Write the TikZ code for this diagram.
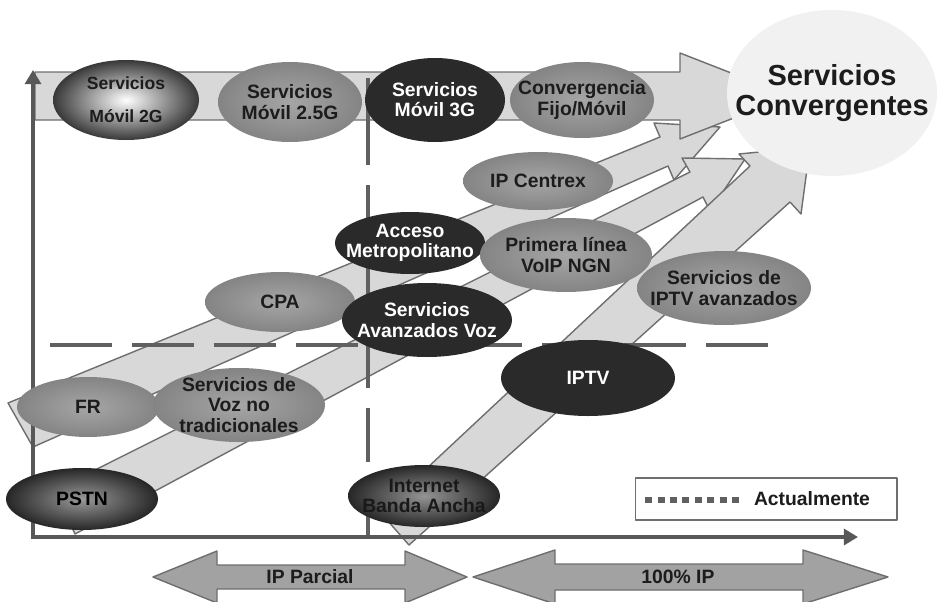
\documentclass[tikz,border=0pt]{standalone}
\usepackage{fontspec}
\setmainfont{Liberation Sans}
\usetikzlibrary{shapes.geometric,arrows.meta}

%Colors
\definecolor{bandfill}{RGB}{216,216,216}
\definecolor{bandline}{RGB}{110,110,110}
\definecolor{midout}{RGB}{132,132,132}
\definecolor{midin}{RGB}{166,166,166}
\definecolor{darkfill}{RGB}{42,42,42}
\definecolor{axisgray}{RGB}{88,88,88}
\definecolor{dashgray}{RGB}{96,96,96}
\definecolor{circfill}{RGB}{241,241,241}
\definecolor{txtdark}{RGB}{28,28,28}
\definecolor{bottomfill}{RGB}{162,162,162}

\begin{document}
\begin{tikzpicture}
			[x=0.02cm,y=-0.02cm,line join=round,
			%Styles
			band/.style={fill=bandfill,draw=bandline,line width=0.8pt},
			ell/.style 2 args={ellipse,inner sep=0pt,minimum width=#1*0.02cm,minimum height=#2*0.02cm},
			midell/.style={inner color=midin,outer color=midout},
			darkell/.style={fill=darkfill},
			btxt/.style={align=center,text=txtdark,font=\bfseries\fontsize{11}{11.5}\selectfont},
			wtxt/.style={btxt,text=white},
			axis/.style={axisgray,line width=2.3pt,-{Triangle[length=8pt,width=9pt]}},
			hdash/.style={dashgray,line width=2.8pt,dash pattern=on 1.24cm off 0.4cm},
			vdash/.style={dashgray,line width=2.8pt},
			dblarrow/.style={fill=bottomfill,draw=bandline,line width=0.8pt}
			]
			\useasboundingbox (0,0) rectangle (937,602);
			
			%The bands
			\draw[band] (8,403) -- (660,137) -- (654,123) -- (720,127) -- (674,180) -- (668,166) -- (33,447) -- cycle;
			\draw[band] (55,490) -- (690,172) -- (682,158) -- (745,159) -- (710,211) -- (703,197) -- (75,534) -- cycle;
			\draw[band] (380,512) -- (750,166) -- (739,154) -- (810,147) -- (801,214) -- (790,202) -- (409,545) -- cycle;
			\draw[band] (35,72) -- (680,72) -- (680,53) -- (790,96) -- (680,139) -- (680,120) -- (35,120) -- cycle;
			
			%Dashed lines and axes
			\draw[hdash] (50,345) -- (772,345);
			\foreach \a/\b in {78/165,185/388,408/462,482/537}
				\draw[vdash] (368,\a) -- (368,\b);
			\draw[axis] (33,539) -- (33,70);
			\draw[axis] (31,537) -- (858,537);
			
			%The services
			\node[ell={210}{166},fill=circfill,label={[btxt,font=\bfseries\fontsize{16.5}{17}\selectfont]center:Servicios\\Convergentes}] (svconv) at (832,93) {};
			\node[ell={146}{80},inner color=white,outer color=black!78,label={[btxt,font=\bfseries\fontsize{10}{11}\selectfont]center:Servicios\\[8pt]Móvil 2G}] (movil2g) at (126,100) {};
			\node[ell={144}{80},midell,label={[btxt]center:Servicios\\Móvil 2.5G}] (movil25g) at (290,102) {};
			\node[ell={140}{84},darkell,label={[wtxt]center:Servicios\\Móvil 3G}] (movil3g) at (435,100) {};
			\node[ell={144}{76},midell,label={[btxt]center:Convergencia\\Fijo/Móvil}] (fijomovil) at (582,100) {};
			\node[ell={150}{58},midell,label={[btxt]center:IP Centrex}] (centrex) at (538,181) {};
			\node[ell={142}{60},midell,label={[btxt]center:FR}] (fr) at (88,407) {};
			\node[ell={172}{74},midell,label={[btxt]center:Servicios de\\Voz no\\tradicionales}] (voznotrad) at (239,405) {};
			\node[ell={150}{60},midell,label={[btxt]center:CPA}] (cpa) at (280,302) {};
			\node[ell={170}{74},darkell,label={[wtxt]center:Servicios\\Avanzados Voz}] (avanzvoz) at (427,320) {};
			\node[ell={150}{62},darkell,label={[wtxt]center:Acceso\\Metropolitano}] (metro) at (410,243) {};
			\node[ell={172}{74},midell,label={[btxt]center:Primera línea\\VoIP NGN}] (voip) at (566,255) {};
			\node[ell={174}{74},midell,label={[btxt]center:Servicios de\\IPTV avanzados}] (iptvavanz) at (724,288) {};
			\node[ell={174}{76},darkell,label={[wtxt]center:IPTV}] (iptv) at (588,378) {};
			\node[ell={152}{62},inner color=black!40,outer color=black!85,label={[btxt,text=black]center:PSTN}] (pstn) at (82,499) {};
			\node[ell={152}{62},inner color=black!42,outer color=black!85,label={[btxt,text=black!90]center:Internet\\Banda Ancha}] (banda) at (424,496) {};
			
			%Legend
			\node[draw=bandline,fill=white,line width=0.6pt,minimum width=5.24cm,minimum height=0.84cm] (legend) at (766,499) {};
			\draw[dashgray,line width=3.4pt,dash pattern=on 0.14cm off 0.11cm] (645,500) -- (742,500);
			\node[btxt] (actual) at (812,499) {Actualmente};
			
			%Bottom arrows
			\draw[dblarrow] (153,577) -- (217,551) -- (217,565) -- (405,565) -- (405,551) -- (467,577) -- (405,603) -- (405,589) -- (217,589) -- (217,603) -- cycle;
			\draw[dblarrow] (473,577) -- (555,550) -- (555,564) -- (803,564) -- (803,550) -- (888,577) -- (803,604) -- (803,590) -- (555,590) -- (555,604) -- cycle;
			\node[btxt] (ipparcial) at (310,577) {IP Parcial};
			\node[btxt] (fullip) at (678,577) {100\% IP};
		\end{tikzpicture}
\end{document}
